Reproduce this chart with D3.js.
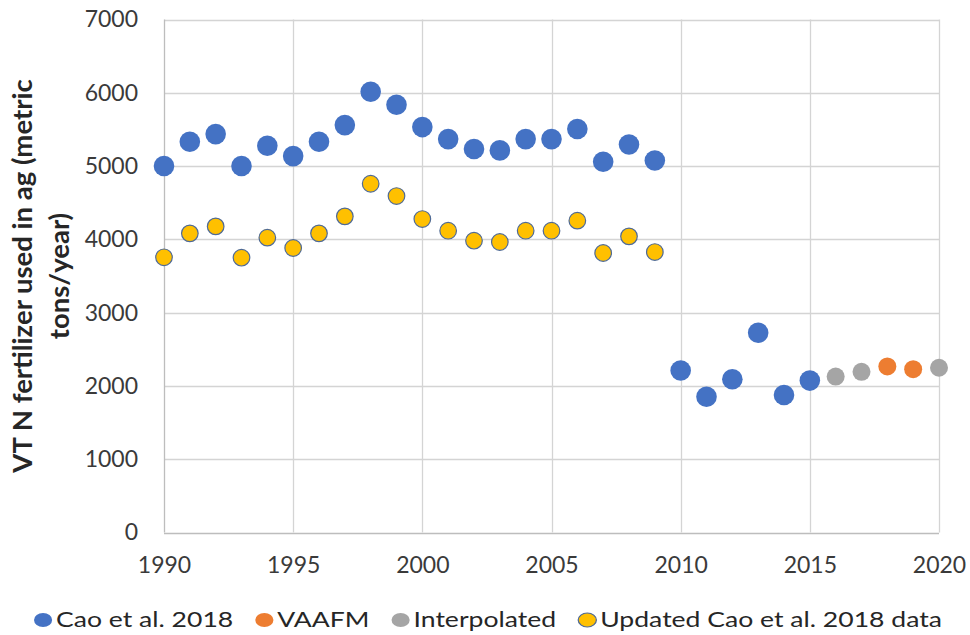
<!DOCTYPE html>
<html>
<head>
<meta charset="utf-8">
<script src="https://cdn.jsdelivr.net/npm/d3@7"></script>
<style>
  html, body { margin: 0; padding: 0; background: #fff; }
  svg { display: block; }
</style>
</head>
<body>
<svg id="chart" width="970" height="635"></svg>
<script>
// ---- Data ----
const caoYears = [1990,1991,1992,1993,1994,1995,1996,1997,1998,1999,2000,2001,2002,2003,2004,2005,2006,2007,2008,2009,2010,2011,2012,2013,2014,2015];
const caoValues = [5000,5332,5436,5000,5277,5136,5332,5559,6014,5836,5532,5368,5232,5214,5368,5368,5505,5059,5295,5077,2211,1853,2092,2725,1876,2073];
const vaafmYears = [2018,2019];
const vaafmValues = [2266,2229];
const interpYears = [2016,2017,2020];
const interpValues = [2128,2193,2248];
const updatedYears = [1990,1991,1992,1993,1994,1995,1996,1997,1998,1999,2000,2001,2002,2003,2004,2005,2006,2007,2008,2009];
const updatedValues = [3755,4082,4177,3750,4023,3882,4082,4314,4759,4591,4277,4118,3982,3964,4118,4118,4255,3814,4041,3827];
const xTicks = [1990,1995,2000,2005,2010,2015,2020];
const yTicks = [0,1000,2000,3000,4000,5000,6000,7000];
const yTitleLines = ["VT N fertilizer used in ag (metric", "tons/year)"];
const legendLabels = ["Cao et al. 2018", "VAAFM", "Interpolated", "Updated Cao et al. 2018 data"];

// ---- Layout ----
const svg = d3.select("#chart");
const pLeft = 164, pRight = 939, pTop = 19.5, pBottom = 532.5;
const x = d3.scaleLinear().domain([1990, 2020]).range([pLeft, pRight]);
const y = d3.scaleLinear().domain([0, 7000]).range([pBottom, pTop]);
const font = "Lato, 'Open Sans', sans-serif";

// gridlines
const grid = svg.append("g");
grid.selectAll("line.h").data(yTicks).join("line")
  .attr("x1", pLeft).attr("x2", pRight)
  .attr("y1", d => Math.round(y(d)) + 0.5).attr("y2", d => Math.round(y(d)) + 0.5)
  .attr("stroke", d => d === 0 ? "#bdbdbd" : "#d4d4d4").attr("stroke-width", 1.3);
grid.selectAll("line.v").data(xTicks).join("line")
  .attr("y1", pTop).attr("y2", pBottom)
  .attr("x1", d => Math.round(x(d)) + 0.5).attr("x2", d => Math.round(x(d)) + 0.5)
  .attr("stroke", d => d === 1990 ? "#bdbdbd" : "#d4d4d4").attr("stroke-width", 1.3);

// axes (labels only)
const yAxis = d3.axisLeft(y).tickValues(yTicks).tickSize(0).tickPadding(26).tickFormat(d3.format("d"));
const gy = svg.append("g").attr("transform", `translate(${pLeft},0)`).call(yAxis);
gy.select(".domain").remove();
gy.selectAll("text").attr("font-family", font).attr("font-size", 23).attr("fill", "#3a3a3a");

const xAxis = d3.axisBottom(x).tickValues(xTicks).tickSize(0).tickPadding(24).tickFormat(d3.format("d"));
const gx = svg.append("g").attr("transform", `translate(0,${pBottom})`).call(xAxis);
gx.select(".domain").remove();
gx.selectAll("text").attr("font-family", font).attr("font-size", 23).attr("fill", "#3a3a3a");

// y title
const yt = svg.append("text")
  .attr("transform", `translate(32,${(pTop + pBottom) / 2}) rotate(-90)`)
  .attr("text-anchor", "middle")
  .attr("font-family", font).attr("font-weight", "bold").attr("font-size", 27.5).attr("fill", "#262626");
yt.selectAll("tspan").data(yTitleLines).join("tspan")
  .attr("x", 0).attr("dy", (d, i) => i === 0 ? 0 : 36.6).text(d => d);

// series
const series = [
  {years: caoYears, values: caoValues, fill: "#4472C4", stroke: "none", r: 10.3},
  {years: vaafmYears, values: vaafmValues, fill: "#ED7D31", stroke: "none", r: 9},
  {years: interpYears, values: interpValues, fill: "#A5A5A5", stroke: "none", r: 9},
  {years: updatedYears, values: updatedValues, fill: "#FFC000", stroke: "#4f6a96", r: 8.3}
];
series.forEach(s => {
  svg.append("g").selectAll("circle").data(s.years.map((yr, i) => [yr, s.values[i]])).join("circle")
    .attr("cx", d => x(d[0])).attr("cy", d => y(d[1])).attr("r", s.r)
    .attr("fill", s.fill).attr("stroke", s.stroke).attr("stroke-width", 1.2);
});

// legend
const lg = svg.append("g");
let cx = 0;
legendLabels.forEach((lab, i) => {
  const s = series[i];
  lg.append("circle").attr("cx", cx + 7).attr("cy", 0).attr("r", 7)
    .attr("fill", s.fill).attr("stroke", s.stroke).attr("stroke-width", 1);
  const t = lg.append("text").attr("x", cx + 17).attr("y", 7.3)
    .attr("font-family", font).attr("font-size", 20.5).attr("fill", "#262626").text(lab);
  cx += 17 + t.node().getComputedTextLength() + 17;
});
const naturalW = cx - 17;
const targetL = 34, targetR = 942;
const sx = (targetR - targetL) / naturalW;
lg.attr("transform", `translate(${targetL},620) scale(${sx},1)`);
</script>
</body>
</html>
